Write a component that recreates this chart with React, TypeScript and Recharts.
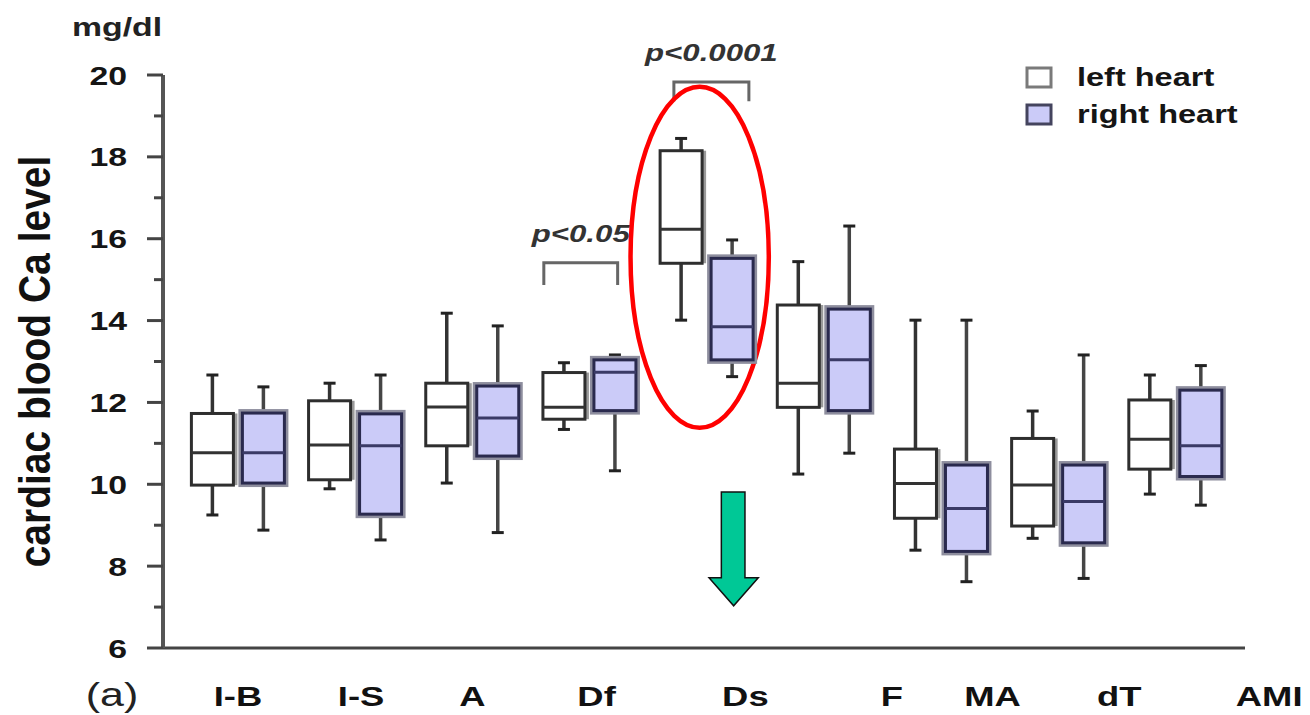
import { ComposedChart, Bar, XAxis, YAxis, Legend, ReferenceArea, Customized } from "recharts";

// groups as printed under the axis
const categories = ["I-B", "I-S", "A", "Df", "Ds", "F", "MA", "dT", "AMI"];

// left heart boxes (mg/dl)
const leftMin = [9.25, 9.89, 10.03, 11.34, 14.01, 10.25, 8.39, 8.68, 9.76];
const leftQ1 = [9.98, 10.11, 10.94, 11.59, 15.4, 11.88, 9.17, 8.98, 10.37];
const leftMedian = [10.77, 10.96, 11.89, 11.88, 16.23, 12.47, 10.02, 9.98, 11.1];
const leftQ3 = [11.73, 12.04, 12.47, 12.73, 18.15, 14.38, 10.86, 11.12, 12.06];
const leftMax = [12.67, 12.47, 14.18, 12.97, 18.45, 15.44, 14.01, 11.79, 12.67];

// right heart boxes (mg/dl)
const rightMin = [8.88, 8.64, 8.82, 10.33, 12.63, 10.76, 7.62, 7.7, 9.49];
const rightQ1 = [10.03, 9.27, 10.69, 11.8, 13.04, 11.8, 8.36, 8.57, 10.19];
const rightMedian = [10.77, 10.94, 11.62, 12.74, 13.85, 13.04, 9.41, 9.58, 10.94];
const rightQ3 = [11.74, 11.72, 12.4, 13.04, 15.52, 14.28, 10.47, 10.47, 12.3];
const rightMax = [12.38, 12.67, 13.87, 13.16, 15.97, 16.31, 14.01, 13.16, 12.9];

// the original figure prints its group names a little off the boxes
const tickPositions = [0, 1.05, 2.0, 3.06, 4.33, 5.58, 6.44, 7.52, 8.8];
const yTicks = [6, 7, 8, 9, 10, 11, 12, 13, 14, 15, 16, 17, 18, 19, 20];

// annotations, in data units (x = group index, y = mg/dl)
const brackets = [
    { label: "p<0.05", x1: 2.61, x2: 3.24, y1: 14.87, y2: 15.41 },
    { label: "p<0.0001", x1: 3.72, x2: 4.36, y1: 19.36, y2: 19.83 },
];
const highlight = { x1: 3.35, x2: 4.53, y1: 11.38, y2: 19.71 };
const arrow = { x1: 4.02, x2: 4.44, y1: 7.03, y2: 9.81 };

const data = categories.map((name, i) => ({
    name,
    left: [leftMin[i], leftQ1[i], leftMedian[i], leftQ3[i], leftMax[i]],
    right: [rightMin[i], rightQ1[i], rightMedian[i], rightQ3[i], rightMax[i]],
    leftRange: [leftMin[i], leftMax[i]],
    rightRange: [rightMin[i], rightMax[i]],
}));

const FONT = '"Liberation Sans", Arial, sans-serif';
const SX = 1.3; // the source image is stretched sideways, text too

const styles: any = {
    left: { fill: "#ffffff", stroke: "#2e2e2e", halo: "#9a9a9a", whisker: "#333333", median: "#333333" },
    right: { fill: "#cbcbf8", stroke: "#2a2a4e", halo: "#8e8e9e", whisker: "#454545", median: "#3a3a66" },
};

function BoxShape(props: any) {
    const { x, y, width, height, payload, side } = props;
    const s = payload[side];
    const st = styles[side];
    const top = Math.min(y, y + height);
    const h = Math.abs(height);
    const lo = s[0];
    const hi = s[4];
    const yOf = (v: number) => top + (h * (hi - v)) / (hi - lo);
    const cx = x + width / 2;
    const q1 = yOf(s[1]);
    const q3 = yOf(s[3]);
    const cap = 6;

    return (
        <g>
            <line x1={cx} x2={cx} y1={yOf(hi)} y2={q3} stroke={st.whisker} strokeWidth={3.5} />
            <line x1={cx} x2={cx} y1={q1} y2={yOf(lo)} stroke={st.whisker} strokeWidth={3.5} />
            <line x1={cx - cap} x2={cx + cap} y1={yOf(hi)} y2={yOf(hi)} stroke="#222" strokeWidth={3} />
            <line x1={cx - cap} x2={cx + cap} y1={yOf(lo)} y2={yOf(lo)} stroke="#222" strokeWidth={3} />
            {side === "left" ? (
                <rect x={x + 4} y={q3} width={width} height={q1 - q3} fill={st.halo} />
            ) : (
                <rect x={x - 2} y={q3 - 2} width={width + 4} height={q1 - q3 + 4} fill="none" stroke={st.halo} strokeWidth={4} />
            )}
            <rect x={x} y={q3} width={width} height={q1 - q3} fill={st.fill} stroke={st.stroke} strokeWidth={3} />
            <line x1={x} x2={x + width} y1={yOf(s[2])} y2={yOf(s[2])} stroke={st.median} strokeWidth={3} />
        </g>
    );
}

const YTick = (props: any) => {
    const { x, y, payload } = props;
    const major = payload.value % 2 === 0;
    return (
        <g>
            <line x1={x - (major ? 16 : 9)} x2={x} y1={y} y2={y} stroke="#444" strokeWidth={3} />
            {major && (
                <text
                    transform={`translate(${x - 36},${y + 9.5}) scale(${SX},1)`}
                    textAnchor="end"
                    fontFamily={FONT}
                    fontWeight="bold"
                    fontSize={26}
                    fill="#151515"
                >
                    {payload.value}
                </text>
            )}
        </g>
    );
};

const XTick = (props: any) => {
    const { x, y, payload } = props;
    const idx = tickPositions.indexOf(payload.value);
    return (
        <text
            transform={`translate(${x},${y + 58}) scale(${SX},1)`}
            textAnchor="middle"
            fontFamily={FONT}
            fontWeight="bold"
            fontSize={28}
            fill="#111"
        >
            {categories[idx]}
        </text>
    );
};

const YTitle = (props: any) => {
    const { viewBox } = props;
    const cy = viewBox.y + viewBox.height / 2;
    return (
        <text
            transform={`translate(${viewBox.x + 50},${cy}) scale(1.12,1) rotate(-90)`}
            textAnchor="middle"
            fontFamily={FONT}
            fontWeight="bold"
            fontSize={39}
            fill="#111"
        >
            cardiac blood Ca level
        </text>
    );
};

const Bracket = (label: string) => (props: any) => {
    const { x, y, width, height } = props;
    return (
        <g>
            <path
                d={`M${x},${y + height} L${x},${y} L${x + width},${y} L${x + width},${y + height}`}
                fill="none"
                stroke="#666"
                strokeWidth={3}
            />
            <text
                transform={`translate(${x + width / 2},${y - 21}) scale(${SX},1)`}
                textAnchor="middle"
                fontFamily={FONT}
                fontWeight="bold"
                fontStyle="italic"
                fontSize={24}
                fill="#333"
            >
                {label}
            </text>
        </g>
    );
};

const Ellipse = (props: any) => {
    const { x, y, width, height } = props;
    return (
        <ellipse
            cx={x + width / 2}
            cy={y + height / 2}
            rx={width / 2}
            ry={height / 2}
            fill="none"
            stroke="#ff0000"
            strokeWidth={4.5}
        />
    );
};

const Arrow = (props: any) => {
    const { x, y, width: w, height: h } = props;
    const pts = [
        [x + 0.25 * w, y],
        [x + 0.73 * w, y],
        [x + 0.73 * w, y + 0.754 * h],
        [x + w, y + 0.754 * h],
        [x + 0.5 * w, y + h],
        [x, y + 0.754 * h],
        [x + 0.25 * w, y + 0.754 * h],
    ];
    return <polygon points={pts.map((p) => p.join(",")).join(" ")} fill="#00c896" stroke="#111" strokeWidth={1.5} />;
};

const Annotations = () => (
    <g fontFamily={FONT}>
        <text transform={`translate(117,36) scale(${SX},1)`} textAnchor="middle" fontWeight="bold" fontSize={26} fill="#222">
            mg/dl
        </text>
        <text transform={`translate(112,706) scale(${SX},1)`} textAnchor="middle" fontSize={33} fill="#222">
            (a)
        </text>
    </g>
);

const legendSwatch: any = {
    "left heart": { fill: "#ffffff", stroke: "#7a7a7a" },
    "right heart": { fill: "#cbcbf8", stroke: "#44445e" },
};

const renderLegend = (props: any) => {
    const { payload } = props;
    return (
        <svg width={280} height={80}>
            {(payload || []).map((entry: any, i: number) => {
                const sw = legendSwatch[entry.value] || legendSwatch["left heart"];
                return (
                    <g key={entry.value} transform={`translate(0,${i * 37})`}>
                        <rect x={8} y={11} width={24} height={19} fill={sw.fill} stroke={sw.stroke} strokeWidth={3} />
                        <text
                            transform={`translate(58,29) scale(${SX},1)`}
                            fontFamily={FONT}
                            fontWeight="bold"
                            fontSize={25}
                            fill="#151515"
                        >
                            {entry.value}
                        </text>
                    </g>
                );
            })}
        </svg>
    );
};

export default function App() {
    return (
        <div style={{ position: "absolute", left: 0, top: 0, background: "#fff" }}>
            <ComposedChart
                width={1310}
                height={715}
                data={data}
                margin={{ top: 75, right: 65, bottom: 0, left: 0 }}
                barGap={9}
                style={{ fontFamily: FONT }}
            >
                <XAxis xAxisId="cat" dataKey="name" hide height={0} padding={{ left: 16.4, right: 11 }} />
                {/* numeric twin of the category axis: 0..8 land on the group centres */}
                <XAxis
                    xAxisId="num"
                    type="number"
                    domain={[0, 8]}
                    allowDataOverflow
                    ticks={tickPositions}
                    interval={0}
                    padding={{ left: 75, right: 69.6 }}
                    tickLine={false}
                    tickSize={0}
                    tickMargin={0}
                    height={67}
                    axisLine={{ stroke: "#444", strokeWidth: 3 }}
                    tick={<XTick />}
                />
                <YAxis
                    type="number"
                    domain={[6, 20]}
                    allowDataOverflow
                    ticks={yTicks}
                    interval={0}
                    width={163}
                    tickLine={false}
                    tickSize={0}
                    tickMargin={0}
                    axisLine={{ stroke: "#555", strokeWidth: 4 }}
                    tick={<YTick />}
                    label={<YTitle />}
                />

                <Legend
                    layout="vertical"
                    align="center"
                    verticalAlign="middle"
                    wrapperStyle={{ position: "absolute", left: 1019, top: 57, width: 280 }}
                    content={renderLegend}
                />

                <Bar
                    xAxisId="cat"
                    dataKey="leftRange"
                    name="left heart"
                    fill="#ffffff"
                    barSize={42}
                    shape={(p: any) => <BoxShape {...p} side="left" />}
                    isAnimationActive={false}
                />
                <Bar
                    xAxisId="cat"
                    dataKey="rightRange"
                    name="right heart"
                    fill="#cbcbf8"
                    barSize={42}
                    shape={(p: any) => <BoxShape {...p} side="right" />}
                    isAnimationActive={false}
                />

                {brackets.map((b) => (
                    <ReferenceArea
                        key={b.label}
                        xAxisId="num"
                        x1={b.x1}
                        x2={b.x2}
                        y1={b.y1}
                        y2={b.y2}
                        shape={Bracket(b.label)}
                    />
                ))}
                <ReferenceArea xAxisId="num" {...highlight} shape={Ellipse} />
                <ReferenceArea xAxisId="num" {...arrow} shape={Arrow} />

                <Customized component={Annotations} />
            </ComposedChart>
        </div>
    );
}
